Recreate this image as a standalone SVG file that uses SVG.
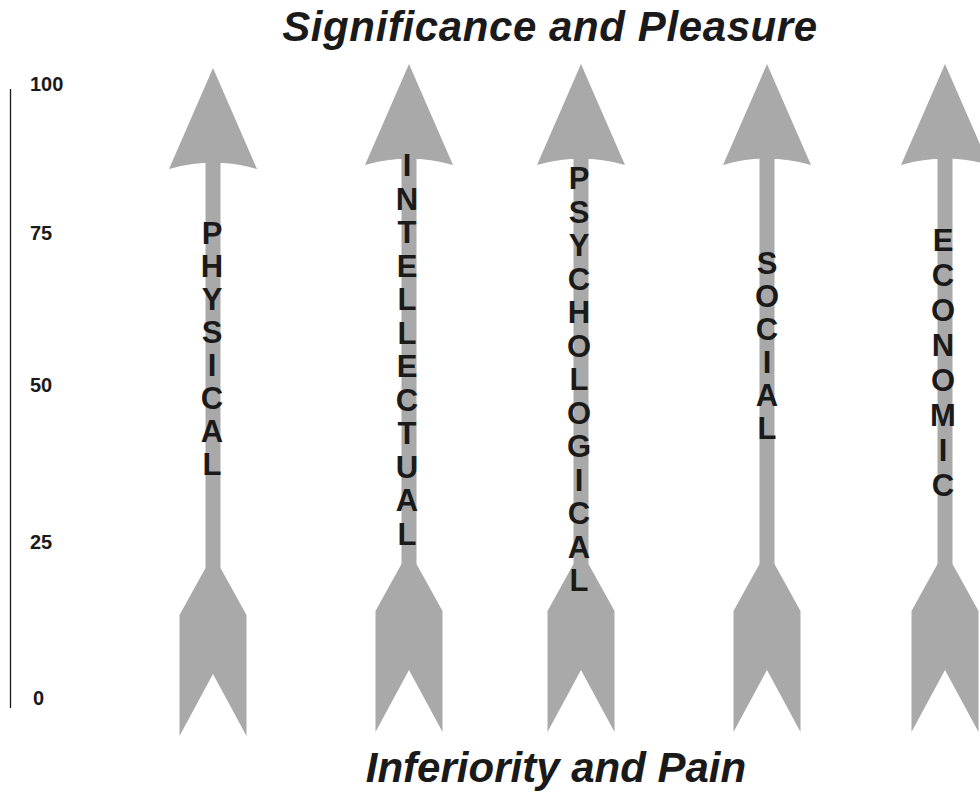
<svg xmlns="http://www.w3.org/2000/svg" xmlns:xlink="http://www.w3.org/1999/xlink" width="980" height="793" viewBox="0 0 980 793">
<style>
.arr{fill:#a9a9a9}
.lbl{font-family:"Liberation Sans",Arial,sans-serif;font-weight:bold;font-size:31px;fill:#1a1a1a;text-anchor:middle}
.ttl{font-family:"Liberation Sans",Arial,sans-serif;font-weight:bold;font-style:italic;font-size:42px;fill:#1a1a1a;text-anchor:middle}
.num{font-family:"Liberation Sans",Arial,sans-serif;font-weight:bold;font-size:20px;fill:#1a1a1a}
</style>
<defs>
<path id="arrow" class="arr" d="M0,0 L44,101 Q0,88 -44,101 Z M-7.5,94 H7.5 V501 H-7.5 Z M-7.5,500 L7.5,500 L33.5,547 L33.5,668 L0,606 L-33.5,668 L-33.5,547 Z"/>
</defs>
<rect width="980" height="793" fill="#ffffff"/>
<text class="ttl" x="550" y="41" letter-spacing="0.6">Significance and Pleasure</text>
<text class="ttl" x="556" y="782">Inferiority and Pain</text>
<g id="axis">
<line x1="10.5" y1="89" x2="10.5" y2="708" stroke="#1a1a1a" stroke-width="1.3"/>
<text class="num" x="30" y="91">100</text>
<text class="num" x="30" y="240">75</text>
<text class="num" x="30" y="392">50</text>
<text class="num" x="30" y="549">25</text>
<text class="num" x="33" y="705">0</text>
</g>
<g id="connectors"></g>
<g id="physical">
<use xlink:href="#arrow" href="#arrow" transform="translate(213,68)"/>
<text class="lbl"><tspan x="212" y="244">P</tspan><tspan x="212" dy="33">H</tspan><tspan x="212" dy="33">Y</tspan><tspan x="212" dy="33">S</tspan><tspan x="212" dy="33">I</tspan><tspan x="212" dy="33">C</tspan><tspan x="212" dy="33">A</tspan><tspan x="212" dy="33">L</tspan></text>
</g>
<g id="intellectual">
<use xlink:href="#arrow" href="#arrow" transform="translate(409,64)"/>
<text class="lbl"><tspan x="407" y="176">I</tspan><tspan x="407" dy="33.5">N</tspan><tspan x="407" dy="33.5">T</tspan><tspan x="407" dy="33.5">E</tspan><tspan x="407" dy="33.5">L</tspan><tspan x="407" dy="33.5">L</tspan><tspan x="407" dy="33.5">E</tspan><tspan x="407" dy="33.5">C</tspan><tspan x="407" dy="33.5">T</tspan><tspan x="407" dy="33.5">U</tspan><tspan x="407" dy="33.5">A</tspan><tspan x="407" dy="33.5">L</tspan></text>
</g>
<g id="psychological">
<use xlink:href="#arrow" href="#arrow" transform="translate(581,64)"/>
<text class="lbl"><tspan x="579" y="189">P</tspan><tspan x="579" dy="33.5">S</tspan><tspan x="579" dy="33.5">Y</tspan><tspan x="579" dy="33.5">C</tspan><tspan x="579" dy="33.5">H</tspan><tspan x="579" dy="33.5">O</tspan><tspan x="579" dy="33.5">L</tspan><tspan x="579" dy="33.5">O</tspan><tspan x="579" dy="33.5">G</tspan><tspan x="579" dy="33.5">I</tspan><tspan x="579" dy="33.5">C</tspan><tspan x="579" dy="33.5">A</tspan><tspan x="579" dy="33.5">L</tspan></text>
</g>
<g id="social">
<use xlink:href="#arrow" href="#arrow" transform="translate(767,64)"/>
<text class="lbl"><tspan x="767" y="274">S</tspan><tspan x="767" dy="33">O</tspan><tspan x="767" dy="33">C</tspan><tspan x="767" dy="33">I</tspan><tspan x="767" dy="33">A</tspan><tspan x="767" dy="33">L</tspan></text>
</g>
<g id="economic">
<use xlink:href="#arrow" href="#arrow" transform="translate(945,64)"/>
<text class="lbl"><tspan x="943" y="251">E</tspan><tspan x="943" dy="35">C</tspan><tspan x="943" dy="35">O</tspan><tspan x="943" dy="35">N</tspan><tspan x="943" dy="35">O</tspan><tspan x="943" dy="35">M</tspan><tspan x="943" dy="35">I</tspan><tspan x="943" dy="35">C</tspan></text>
</g>
</svg>
